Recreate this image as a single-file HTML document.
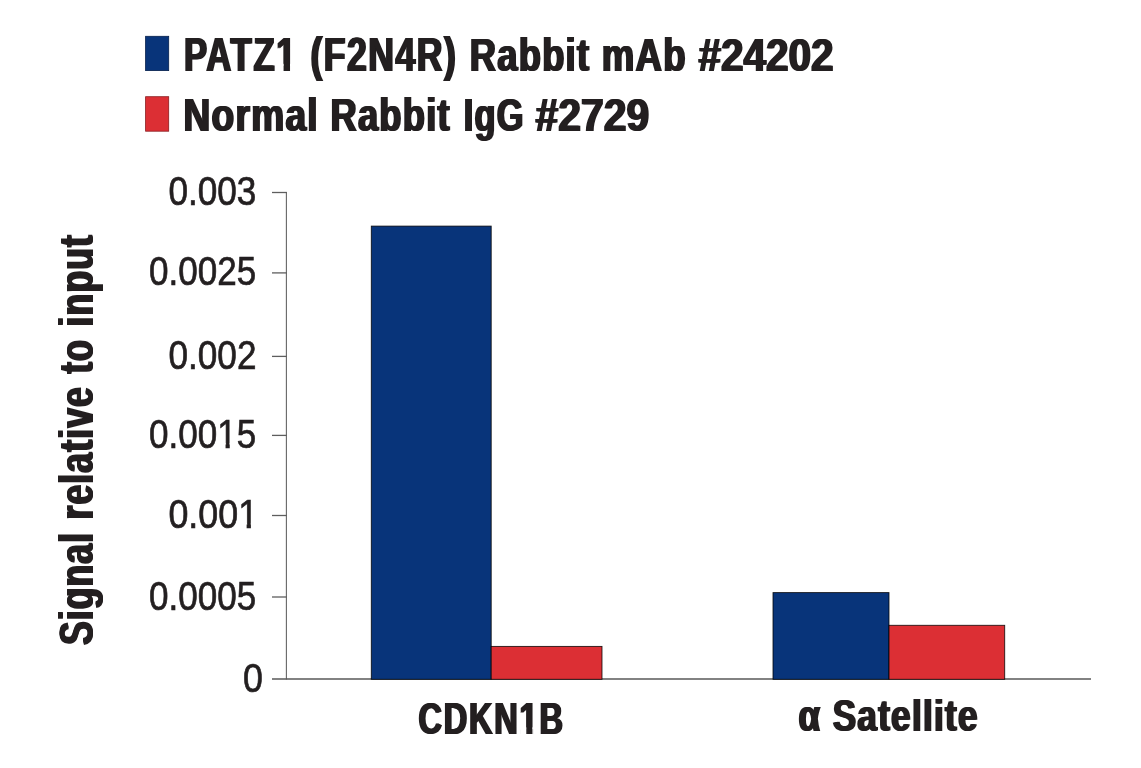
<!DOCTYPE html>
<html lang="en">
<head>
<meta charset="utf-8">
<title>PATZ1 (F2N4R) Rabbit mAb ChIP qPCR</title>
<style>
  html, body { margin: 0; padding: 0; background: #ffffff; }
  body { width: 1141px; height: 768px; overflow: hidden; }
  svg { display: block; }
  text { font-family: "Liberation Sans", sans-serif; fill: #231f20; white-space: pre; }
  .b text { font-weight: bold; }
  .t text { font-weight: normal; font-size: 40.3px; stroke: #231f20; stroke-width: 0.7px; }
</style>
</head>
<body>
<svg width="1141" height="768" viewBox="0 0 1141 768">
  <defs>
    <filter id="fat" x="-5%" y="-20%" width="110%" height="140%" color-interpolation-filters="sRGB">
      <feOffset in="SourceGraphic" dx="0.6" dy="0" result="a"/>
      <feOffset in="SourceGraphic" dx="-0.6" dy="0" result="b"/>
      <feMerge><feMergeNode in="a"/><feMergeNode in="b"/><feMergeNode in="SourceGraphic"/></feMerge>
    </filter>
    <filter id="fatv" x="-20%" y="-5%" width="140%" height="110%" color-interpolation-filters="sRGB">
      <feOffset in="SourceGraphic" dx="0" dy="0.6" result="a"/>
      <feOffset in="SourceGraphic" dx="0" dy="-0.6" result="b"/>
      <feMerge><feMergeNode in="a"/><feMergeNode in="b"/><feMergeNode in="SourceGraphic"/></feMerge>
    </filter>
  </defs>
  <rect x="0" y="0" width="1141" height="768" fill="#ffffff"/>

  <!-- legend -->
  <g stroke-width="0.8">
    <rect x="145.6" y="36.3" width="23.1" height="34.3" fill="#08347a" stroke="#05204c"/>
    <rect x="145.6" y="96.7" width="23.1" height="34.5" fill="#dc2f34" stroke="#8a1d20"/>
  </g>
  <g class="b" filter="url(#fat)">
    <text transform="translate(184.00,71.00) scale(0.7296,1)" font-size="47.5" letter-spacing="2.4">PATZ1</text>
    <text transform="translate(310.43,71.00) scale(0.7495,1)" font-size="47.5" letter-spacing="2.0">(F2N4R)</text>
    <text transform="translate(469.87,71.00) scale(0.7653,0.97)" font-size="47.5" letter-spacing="1.6">Rabbit</text>
    <text transform="translate(601.79,71.00) scale(0.7705,0.97)" font-size="47.5" letter-spacing="1.6">mAb</text>
    <text transform="translate(698.40,71.00) scale(0.8528,0.955)" font-size="47.5">#24202</text>
  </g>
  <g class="b" filter="url(#fat)">
    <text transform="translate(183.56,131.00) scale(0.7816,0.97)" font-size="47.5" letter-spacing="1.6">Normal</text>
    <text transform="translate(330.44,131.00) scale(0.7652,0.97)" font-size="47.5" letter-spacing="1.6">Rabbit</text>
    <text transform="translate(463.85,131.00) scale(0.7235,0.97)" font-size="47.5" letter-spacing="1.6">IgG</text>
    <text transform="translate(535.54,131.00) scale(0.8603,0.955)" font-size="47.5">#2729</text>
  </g>

  <!-- axes -->
  <g stroke="#666666" stroke-width="1.1" fill="none">
    <line x1="286.4" y1="192" x2="286.4" y2="679.5"/>
    <line x1="272" y1="679" x2="1091" y2="679" stroke="#585858" stroke-width="1.4"/>
    <line x1="272" y1="192.5" x2="286.9" y2="192.5" stroke="#5e5e5e" stroke-width="1.3"/>
    <line x1="272" y1="272.9" x2="286.9" y2="272.9" stroke="#5e5e5e" stroke-width="1.3"/>
    <line x1="272" y1="356.4" x2="286.9" y2="356.4" stroke="#5e5e5e" stroke-width="1.3"/>
    <line x1="272" y1="435.4" x2="286.9" y2="435.4" stroke="#5e5e5e" stroke-width="1.3"/>
    <line x1="272" y1="515.5" x2="286.9" y2="515.5" stroke="#5e5e5e" stroke-width="1.3"/>
    <line x1="272" y1="597.0" x2="286.9" y2="597.0" stroke="#5e5e5e" stroke-width="1.3"/>
  </g>

  <!-- bars -->
  <g stroke="#000000" stroke-opacity="0.85" stroke-width="0.9">
    <rect x="371.3" y="226.1" width="119.9" height="453.2" fill="#08347a"/>
    <rect x="491.2" y="646.4" width="110.8" height="32.9" fill="#dc2f34"/>
    <rect x="773" y="592.6" width="116" height="86.7" fill="#08347a"/>
    <rect x="889" y="625.3" width="115.7" height="54" fill="#dc2f34"/>
  </g>

  <!-- tick labels -->
  <g class="t">
    <text transform="translate(168.45,205.00) scale(0.8725,1)">0.003</text>
    <text transform="translate(149.10,285.00) scale(0.8694,1)">0.0025</text>
    <text transform="translate(168.49,369.00) scale(0.8724,1)">0.002</text>
    <text transform="translate(149.10,448.00) scale(0.8694,1)">0.0015</text>
    <text transform="translate(168.46,528.00) scale(0.8889,1)">0.001</text>
    <text transform="translate(149.10,610.00) scale(0.8694,1)">0.0005</text>
    <text transform="translate(242.93,692.00) scale(0.8872,1)">0</text>
  </g>

  <!-- axis title -->
  <g class="b" filter="url(#fatv)">
    <g transform="translate(92.9,644.7) rotate(-90)">
    <text transform="translate(-0.29,0) scale(0.7161,0.97)" font-size="49.5" letter-spacing="1.6">Signal</text>
    <text transform="translate(125.21,0) scale(0.7168,0.97)" font-size="49.5" letter-spacing="1.6">relative</text>
    <text transform="translate(271.20,0) scale(0.6904,0.97)" font-size="49.5" letter-spacing="1.6">to</text>
    <text transform="translate(318.29,0) scale(0.7164,0.97)" font-size="49.5" letter-spacing="1.6">input</text>
    </g>
  </g>

  <!-- category labels -->
  <g class="b" filter="url(#fat)">
    <text transform="translate(418.55,734.00) scale(0.7342,1)" font-size="44.3" letter-spacing="2.4">CDKN1B</text>
    <text transform="translate(798.56,731.00) scale(0.7829,1)" font-size="45.0">α</text>
    <text transform="translate(832.66,731.00) scale(0.7813,0.97)" font-size="45.0" letter-spacing="1.6">Satellite</text>
  </g>

  <!-- trim the foot serif of the digit one so it reads as a plain grotesque 1 -->
  <g fill="#ffffff" stroke="none">
    <g transform="translate(184.00,71.00) scale(0.7296,1)"><rect x="126.54" y="-7.17" width="9.94" height="9.72"/><rect x="145.33" y="-7.17" width="9.34" height="9.72"/></g>
    <g transform="translate(418.55,734.00) scale(0.7342,1)"><rect x="137.54" y="-6.68" width="9.20" height="9.06"/><rect x="155.13" y="-6.68" width="8.64" height="9.06"/></g>
    <g transform="translate(149.10,448.00) scale(0.8694,1)"><rect x="78.94" y="-4.98" width="8.99" height="7.14"/><rect x="92.76" y="-4.98" width="8.67" height="7.14"/></g>
    <g transform="translate(168.46,528.00) scale(0.8889,1)"><rect x="78.94" y="-4.98" width="9.00" height="7.14"/><rect x="92.74" y="-4.98" width="8.69" height="7.14"/></g>
  </g>
</svg>
</body>
</html>
